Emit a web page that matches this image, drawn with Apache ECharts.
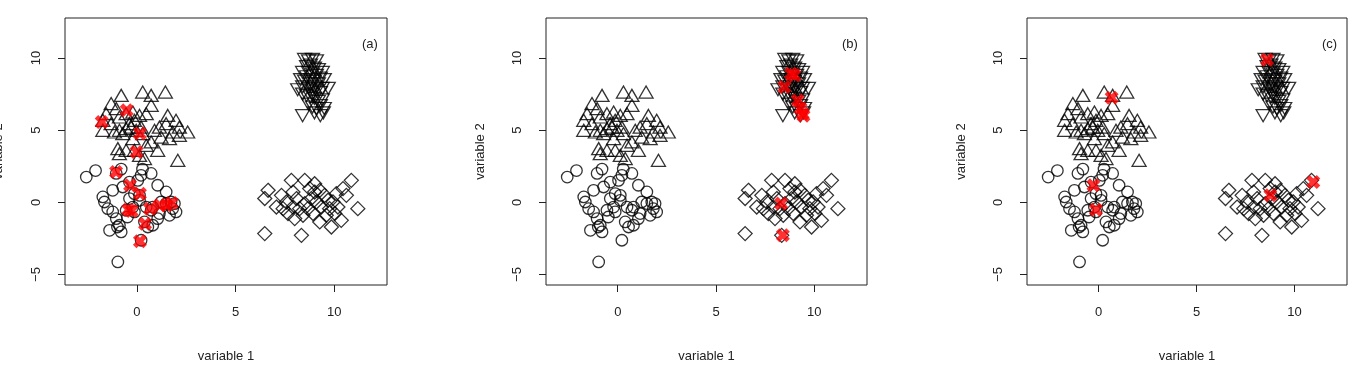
<!DOCTYPE html>
<html>
<head>
<meta charset="utf-8">
<script src="https://cdn.jsdelivr.net/npm/echarts@6/dist/echarts.min.js"></script>
<style>
  html, body { margin: 0; padding: 0; background: #fff; }
  #chart { width: 1357px; height: 379px; }
</style>
</head>
<body>
<div id="chart"></div>
<script>
// tick labels
var xTicks = [0, 5, 10];
var yTicks = [-5, 0, 5, 10];
var panelNames = ['(a)', '(b)', '(c)'];

// cluster 1 - circles
var circles = [
  [-2.57, 1.75], [-2.1, 2.2], [-0.8, 2.3], [-1.05, 2.0], [0.28, 2.3], [0.72, 2.0],
  [1.05, 1.18], [1.48, 0.72], [-1.73, 0.37], [-1.65, 0.02], [-1.23, 0.83], [-0.72, 1.06],
  [-0.38, 1.4], [0.04, 1.52], [0.21, 1.87], [-0.13, 0.6], [-0.38, 0.26], [-0.21, -0.33],
  [-0.13, -0.67], [0.13, 0.14], [0.13, 0.48], [-1.48, -0.44], [-1.23, -0.67], [-1.05, -1.13],
  [-0.89, -1.59], [-1.39, -1.94], [-0.8, -2.05], [-0.99, -1.71], [0.38, -1.36], [0.8, -1.59],
  [0.47, -0.33], [0.8, -0.33], [1.05, -1.13], [0.72, -0.55], [1.22, 0.02], [1.48, -0.09],
  [1.73, 0.02], [1.9, -0.09], [1.81, -0.44], [1.65, -0.9], [1.98, -0.67], [1.14, -0.78],
  [0.21, -2.63], [-0.97, -4.13], [0.55, -1.71], [-0.55, -0.55], [-0.48, -1.02]
];

// cluster 2 - triangles pointing up
var trianglesUp = [
  [-0.8, 7.41], [0.29, 7.64], [0.72, 7.41], [1.44, 7.64], [0.72, 6.72], [-1.31, 6.84],
  [-1.05, 6.49], [-1.56, 6.14], [-1.73, 5.68], [-1.73, 4.99], [-1.31, 5.45], [-0.89, 5.91],
  [-0.55, 6.14], [-0.21, 6.25], [0.13, 6.02], [0.47, 6.14], [-0.89, 4.99], [-0.55, 5.1],
  [-0.29, 5.21], [-0.04, 4.99], [0.21, 5.21], [0.29, 4.76], [-1.14, 4.87], [-0.72, 4.76],
  [-0.38, 5.45], [-0.13, 5.68], [1.56, 6.02], [1.98, 5.68], [2.15, 5.21], [2.57, 4.87],
  [1.14, 5.21], [1.48, 5.45], [1.81, 4.87], [1.22, 4.52], [1.65, 4.41], [2.15, 4.64],
  [0.89, 4.99], [-0.97, 3.72], [-0.55, 3.6], [-0.13, 3.6], [0.13, 3.25], [0.38, 3.03],
  [1.05, 3.6], [2.07, 2.91], [-0.89, 3.37], [0.47, 3.95], [0.72, 4.18], [-0.21, 4.41]
];

// cluster 3 - triangles pointing down
var trianglesDown = [
  [8.5, 9.9], [8.7, 9.8], [8.9, 9.9], [9.1, 9.8], [8.6, 9.4], [8.8, 9.5], [9.0, 9.3],
  [9.2, 9.2], [9.4, 9.0], [8.4, 9.0], [8.7, 9.0], [8.9, 8.9], [9.1, 8.8], [9.3, 8.6],
  [9.5, 8.5], [8.3, 8.5], [8.5, 8.4], [8.8, 8.5], [9.0, 8.4], [9.2, 8.2], [9.7, 7.9],
  [8.15, 7.8], [8.4, 8.0], [8.7, 7.9], [8.9, 7.8], [9.1, 7.7], [9.3, 7.6], [8.4, 7.5],
  [8.6, 7.4], [8.8, 7.3], [9.0, 7.2], [9.2, 7.0], [9.4, 7.1], [8.7, 6.8], [8.9, 6.6],
  [9.1, 6.5], [9.3, 6.7], [9.0, 6.2], [9.3, 6.0], [9.45, 6.2], [8.4, 6.0], [9.5, 6.5],
  [8.9, 7.5], [9.0, 8.0], [8.6, 8.7], [9.4, 7.9], [8.8, 8.2]
];

// cluster 4 - diamonds
var diamonds = [
  [6.48, -2.17], [8.34, -2.29], [11.2, -0.44], [10.87, 1.52], [7.83, 1.52], [8.51, 1.52],
  [6.65, 0.83], [6.48, 0.26], [7.33, 0.48], [7.07, -0.33], [7.58, 0.02], [7.91, 0.71],
  [8.09, 0.26], [7.66, -0.78], [8.0, -1.13], [8.25, -0.44], [8.51, -0.09], [8.76, 0.95],
  [9.01, 0.71], [9.27, 0.83], [9.52, 0.48], [8.84, 0.26], [9.1, 0.02], [8.67, -0.44],
  [8.93, -0.78], [9.27, -1.36], [9.77, -0.44], [9.94, 0.02], [10.11, 0.6], [10.45, 0.95],
  [10.62, 0.48], [10.19, -0.33], [9.86, -1.71], [10.36, -1.25], [9.6, -0.9], [10.03, -0.78],
  [7.91, -0.33], [8.42, -0.9], [9.35, -0.33], [9.69, 0.14], [9.01, 1.29], [7.41, -0.44]
];

// red marked points for each panel
var redA = [
  [-1.79, 5.56], [-0.52, 6.37], [0.15, 4.76], [-0.02, 3.48], [-1.06, 2.1], [-0.35, 1.18],
  [0.15, 0.6], [-0.44, -0.51], [-0.27, -0.6], [0.66, -0.44], [1.16, -0.21], [1.5, -0.21],
  [1.76, -0.05], [0.41, -1.48], [0.15, -2.7]
];
var redB = [
  [8.82, 8.91], [8.99, 8.8], [8.48, 7.99], [9.16, 7.06], [9.3, 6.5], [9.41, 6.14],
  [9.45, 6.0], [8.31, -0.09], [8.4, -2.29]
];
var redC = [
  [0.67, 7.25], [-0.26, 1.18], [-0.13, -0.51], [8.6, 9.88], [8.77, 0.48], [10.96, 1.41]
];

var redSets = [redA, redB, redC];
var gridLefts = [65, 546, 1027];
var gridWidths = [322, 321, 320];
var yNameGaps = [60, 59, 59];
var font = 'Liberation Sans, Arial, sans-serif';
var crossPath = 'path://M3,0 L6,3 L9,0 L12,3 L9,6 L12,9 L9,12 L6,9 L3,12 L0,9 L3,6 L0,3 Z';

function minusSign(v) {
  return String(v).replace('-', '\u2212');
}

var grids = [], xAxes = [], yAxes = [], series = [], titles = [];
for (var i = 0; i < 3; i++) {
  grids.push({
    left: gridLefts[i], top: 18, width: gridWidths[i], height: 267,
    containLabel: false, outerBoundsMode: 'none',
    show: true, borderColor: '#222', borderWidth: 1, backgroundColor: 'transparent'
  });
  xAxes.push({
    gridIndex: i, type: 'value', min: -3.65, max: 12.68,
    splitLine: { show: false },
    axisLine: { show: false, onZero: false },
    axisTick: { show: true, length: 7, lineStyle: { color: '#222' }, customValues: xTicks },
    axisLabel: { customValues: xTicks, margin: 21, color: '#222', fontSize: 13, fontFamily: font },
    name: 'variable 1', nameLocation: 'middle', nameGap: 65,
    nameTextStyle: { color: '#222', fontSize: 13, fontFamily: font }
  });
  yAxes.push({
    gridIndex: i, type: 'value', min: -5.73, max: 12.77,
    splitLine: { show: false },
    axisLine: { show: false, onZero: false },
    axisTick: { show: true, length: 7, lineStyle: { color: '#222' }, customValues: yTicks },
    axisLabel: { customValues: yTicks, rotate: 90, margin: 22, color: '#222', fontSize: 13,
      fontFamily: font, formatter: minusSign },
    name: 'variable 2', nameLocation: 'middle', nameGap: yNameGaps[i],
    nameTextStyle: { color: '#222', fontSize: 13, fontFamily: font }
  });
  titles.push({
    text: panelNames[i], left: gridLefts[i] + gridWidths[i] - 30, top: 33,
    textStyle: { fontSize: 13, fontWeight: 'normal', color: '#222', fontFamily: font }
  });

  var base = { type: 'scatter', xAxisIndex: i, yAxisIndex: i, silent: true,
    itemStyle: { color: 'transparent', borderColor: '#000', borderWidth: 1.3 } };
  series.push(Object.assign({}, base, { data: circles, symbol: 'circle', symbolSize: 11.5 }));
  series.push(Object.assign({}, base, { data: trianglesUp, symbol: 'triangle', symbolSize: [14, 12] }));
  series.push(Object.assign({}, base, { data: trianglesDown, symbol: 'triangle', symbolRotate: 180, symbolSize: [14, 12] }));
  series.push(Object.assign({}, base, { data: diamonds, symbol: 'diamond', symbolSize: 14 }));
  series.push({
    type: 'scatter', xAxisIndex: i, yAxisIndex: i, silent: true,
    data: redSets[i], symbol: crossPath, symbolSize: 14,
    itemStyle: { color: '#f00' }, z: 5
  });
}

var myChart = echarts.init(document.getElementById('chart'));
myChart.setOption({
  animation: false,
  backgroundColor: '#fff',
  title: titles,
  grid: grids,
  xAxis: xAxes,
  yAxis: yAxes,
  series: series
});
</script>
</body>
</html>
